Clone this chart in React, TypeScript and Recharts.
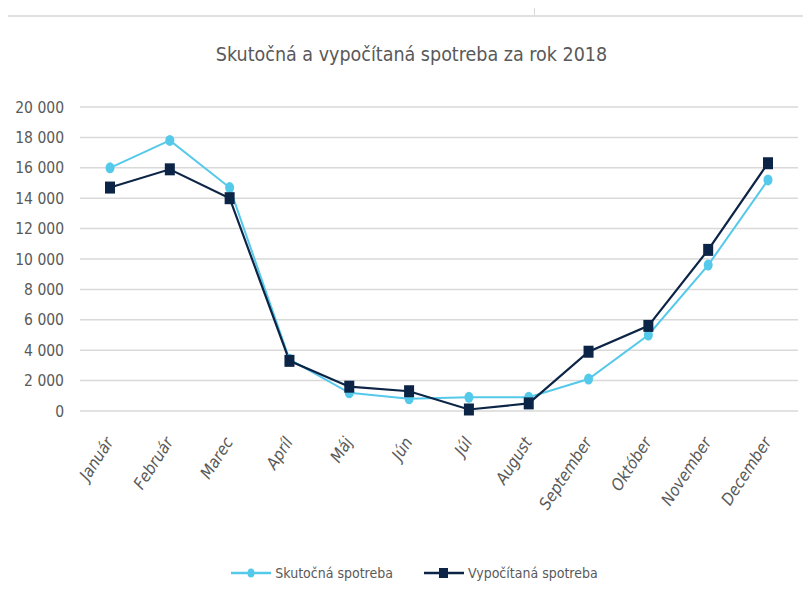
import { LineChart, Line, XAxis, YAxis, CartesianGrid, Legend } from 'recharts';

const months = ['Január', 'Február', 'Marec', 'Apríl', 'Máj', 'Jún', 'Júl', 'August', 'September', 'Október', 'November', 'December'];
const skutocna = [16000, 17800, 14700, 3400, 1200, 800, 900, 900, 2100, 5000, 9600, 15200];
const vypocitana = [14700, 15900, 14000, 3300, 1600, 1300, 100, 500, 3900, 5600, 10600, 16300];
const yTicks = [0, 2000, 4000, 6000, 8000, 10000, 12000, 14000, 16000, 18000, 20000];

const data = months.map((m, i) => ({ month: m, skutocna: skutocna[i], vypocitana: vypocitana[i] }));

const FONT = "'Liberation Sans Narrow', 'DejaVu Sans Condensed', 'Roboto', sans-serif";
const TEXT = '#595959';
const LIGHT = '#55c9ea';
const NAVY = '#0c2446';

const fmt = (v: number) => (v >= 1000 ? `${Math.floor(v / 1000)} ${String(v % 1000).padStart(3, '0')}` : String(v));

function MonthTick({ x, y, payload }: any) {
  const ax = x + 4;
  const ay = y + 23;
  return (
    <text
      x={ax}
      y={ay}
      textAnchor="end"
      fill={TEXT}
      fontSize={16.5}
      fontStyle="italic"
      fontFamily={FONT}
      transform={`rotate(-57, ${ax}, ${ay})`}
    >
      {payload.value}
    </text>
  );
}

function SquareDot({ cx, cy }: any) {
  if (cx == null || cy == null) return null;
  return <rect x={cx - 5} y={cy - 6} width={10} height={12} fill={NAVY} />;
}

function CircleDot({ cx, cy }: any) {
  if (cx == null || cy == null) return null;
  return <ellipse cx={cx} cy={cy} rx={4.5} ry={5.5} fill={LIGHT} />;
}

function LegendBox() {
  const item = (label: string, color: string, square: boolean) => (
    <div style={{ display: 'flex', alignItems: 'center', marginRight: 30 }}>
      <svg width={42} height={14}>
        <line x1={1} y1={7} x2={41} y2={7} stroke={color} strokeWidth={2.5} />
        {square ? <rect x={16} y={2} width={9} height={10} fill={color} /> : <ellipse cx={21} cy={7} rx={3.5} ry={4.5} fill={color} />}
      </svg>
      <span style={{ marginLeft: 3, color: TEXT, fontFamily: FONT, fontSize: 14 }}>{label}</span>
    </div>
  );
  return (
    <div style={{ display: 'flex', justifyContent: 'center', paddingLeft: 60 }}>
      {item('Skutočná spotreba', LIGHT, false)}
      {item('Vypočítaná spotreba', NAVY, true)}
    </div>
  );
}

export default function App() {
  return (
    <div style={{ position: 'relative', width: 811, height: 610, margin: -8, background: '#fff', overflow: 'hidden' }}>
      <div style={{ position: 'absolute', left: 534, top: 0, width: 1, height: 16, background: '#d9d9d9' }} />
      <div style={{ position: 'absolute', left: 4, top: 15, right: 0, bottom: 0, borderTop: '2px solid #e0e0e0', borderLeft: '2px solid #e0e0e0' }} />
      <div
        style={{
          position: 'absolute',
          top: 43,
          left: 0,
          width: 811,
          paddingLeft: 12,
          boxSizing: 'border-box',
          textAlign: 'center',
          fontFamily: FONT,
          fontSize: 19.5,
          fontWeight: 500,
          color: TEXT,
        }}
      >
        Skutočná a vypočítaná spotreba za rok 2018
      </div>
      <div style={{ position: 'absolute', top: 0, left: 0 }}>
        <LineChart width={811} height={610} data={data} margin={{ top: 107, right: 13, bottom: 25, left: 0 }}>
          <CartesianGrid horizontal vertical={false} stroke="#d9d9d9" strokeWidth={1.5} />
          <XAxis
            dataKey="month"
            axisLine={false}
            tickLine={false}
            interval={0}
            height={154}
            padding={{ left: 30, right: 30 }}
            tick={<MonthTick />}
          />
          <YAxis
            width={80}
            domain={[0, 20000]}
            ticks={yTicks}
            tickFormatter={fmt}
            axisLine={false}
            tickLine={false}
            tickMargin={10}
            tick={{ fill: TEXT, fontSize: 15.5, fontFamily: FONT }}
          />
          <Legend verticalAlign="bottom" height={20} content={<LegendBox />} />
          <Line
            dataKey="skutocna"
            name="Skutočná spotreba"
            stroke={LIGHT}
            strokeWidth={2}
            dot={<CircleDot />}
            isAnimationActive={false}
          />
          <Line
            dataKey="vypocitana"
            name="Vypočítaná spotreba"
            stroke={NAVY}
            strokeWidth={2.2}
            dot={<SquareDot />}
            isAnimationActive={false}
          />
        </LineChart>
      </div>
    </div>
  );
}
